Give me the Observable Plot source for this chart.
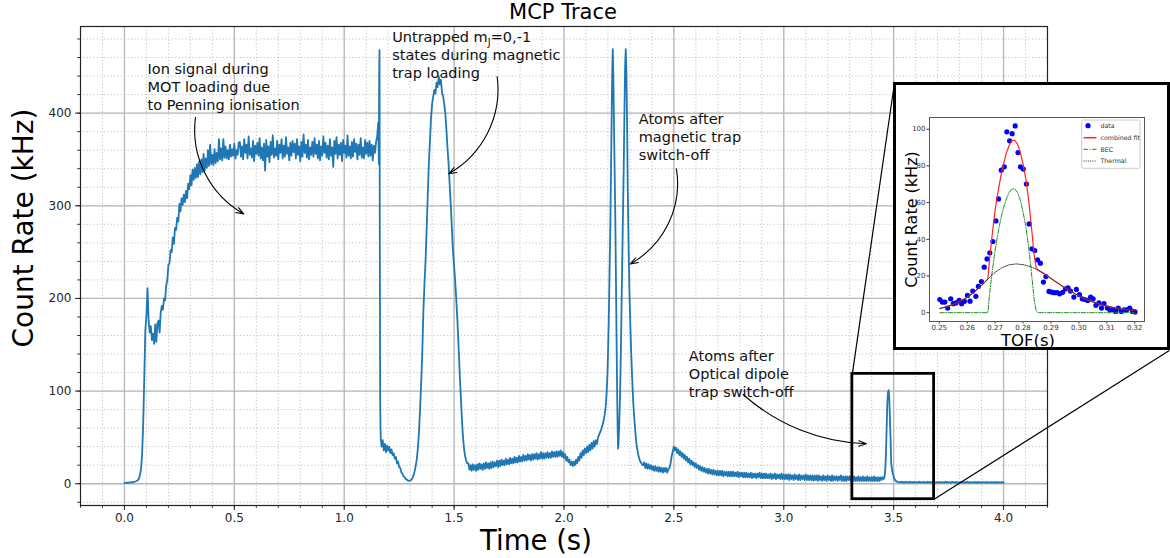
<!DOCTYPE html>
<html><head><meta charset="utf-8">
<script src="https://cdn.jsdelivr.net/npm/d3@7"></script>
<script src="https://cdn.jsdelivr.net/npm/@observablehq/plot@0.6"></script>
<style>
html,body{margin:0;padding:0;background:#fff;}
#wrap{position:relative;width:1170px;height:558px;overflow:hidden;font-family:"DejaVu Sans",sans-serif;}
#title{position:absolute;left:413px;width:300px;top:0;text-align:center;font-size:21px;line-height:24px;color:#000;}
#main{position:absolute;left:0;top:20px;}
#inset{position:absolute;left:893px;top:82px;width:271px;height:262px;border:3px solid #000;background:#fff;}
</style></head><body>
<div id="wrap"><div id="title">MCP Trace</div><div id="main"></div><div id="inset"></div></div>
<script>
// ---------- main MCP trace (time in s, count rate in kHz) ----------
const motStart = 0, motStep = 0.005;
const motCounts = [
 1.0,0.8,1.3,1.0,1.4,1.1,1.6,1.3,1.9,2.0,2.4,2.9,3.6,
 5,9,15,30,62,112,165,182,211,176,163,170,155,162,151,172,153,173,176,163,
 185,192,188,200,198,214,220,236,238,252,
 250,266,259,276,274,287,283,302,294,308,
 301,312,304,316,308,324,318,333,322,339,
 328,341,330,345,331,348,334,350,336,356,
 338,351,341,360,343,366,345,355,344,361,
 346,357,348,372,350,362,349,372,352,364,
 351,360,350,366,353,361,354,367,351,360,
 355,368,
 369,353,364,350,372,357,366,351,375,355,
 362,352,370,348,365,356,368,354,373,351,
 363,349,367,338,371,353,364,347,369,355,
 376,352,362,354,370,350,366,357,372,351,
 365,353,374,356,363,349,368,354,370,358,
 367,351,372,355,364,348,369,353,377,357,
 366,352,371,350,363,355,369,353,373,356,
 366,351,370,349,364,354,375,357,368,352,
 365,350,372,354,363,342,370,356,374,351,
 366,355,368,348,371,357,365,352,376,354,
 364,351,369,353,372,358,367,350,366,355,
 373,352,363,351,371,356,368,353,370,354,
 366,349,365,357,369,375,390];
const spikeTimes = [1.1575,1.159,1.1605,1.162,1.1635,1.165,1.1665];
const spikeCounts = [345,440,468,250,90,62,48];
const magStart = 1.17, magStep = 0.005;
const magCounts = [
 40,47,36,43,34,41,36,40,33,37,31,33,27,29,22,24,18,17,12,11,8,7,5,4.5,3.5,3,3.5,4,6,9,13,19,26,
 38,55,80,108,140,185,215,240,275,310,345,370,395,410,418,425,421,433,428,440,
 431,436,422,418,410,400,382,362,345,322,300,275,250,235,218,198,176,150,122,96,
 72,52,38,30,25,22,
 22,15,20,14,21,15,20,14,21,15,
 22,16,21,15,22,16,23,17,22,16,
 23,17,24,18,23,19,25,18,25,19,
 26,20,25,20,27,21,26,21,28,22,
 27,22,29,23,28,23,30,24,29,24,
 31,25,30,25,32,26,31,25,32,26,
 32,27,33,26,32,27,34,27,33,27,
 33,28,34,28,33,28,35,29,34,29,
 35,29,35,30,36,29,34,28,32,25,
 29,23,26,20,24,19,24,20,26,22,
 29,25,33,28,36,31,38,33,40,34,
 42,36,44,38,46,40,47,43,50,53];
const peakTimes = [2.165,2.17,2.175,2.18,2.185,2.19,2.194,2.198,2.201,2.204,
 2.207,2.211,2.214,2.217,2.2195,2.222,2.2245,2.227,2.23,2.233,
 2.236,2.239,2.242,2.244,2.246,2.248,2.251,2.254,2.257,2.26,
 2.263,2.266,2.269,2.272,2.275,2.278,2.281,2.284,2.287,2.29,
 2.294,2.298,2.302,2.306,2.31,2.315,2.32,2.325,2.33,2.335,
 2.34,2.345,2.35,2.355,2.36];
const peakCounts = [56,59,63,68,74,84,98,120,148,180,
 225,280,340,400,445,469,440,395,345,295,
 230,160,95,60,38,42,62,85,120,160,
 210,255,300,345,400,450,469,445,390,320,
 255,205,170,140,115,88,70,55,42,35,
 29,25,23,21,20];
const tailStart = 2.365, tailStep = 0.005;
const tailCounts = [
 23,17,22,16,21,16,20,15,19,14, 19,14,18,13,18,13,17,12,17,13,
 17,12,16,17,22,30,35,40,36,39, 33,37,31,35,29,33,27,31,25,29,
 23,27,21,25,20,23,18,22,17,20, 15,19,14,18,13,17,12,16,11,16,
 11,15,10,15,10,14,9,14,9,14, 9,14,8,13,9,13,8,13,8,13,
 8,13,8,12,8,13,7,12,8,12, 7,12,7,12,7,11,7,12,6,11,
 7,11,6,11,7,12,6,11,6,11, 6,11,6,10,6,11,5,10,6,11,
 5,10,6,10,5,11,5,10,5,10, 5,10,4,10,5,9,4,10,5,9,
 4,10,4,9,5,9,4,10,4,9, 4,9,4,9,3,9,4,9,3,9,
 4,8,3,9,4,8,3,9,4,8, 3,9,3,8,4,8,3,8,4,9,
 3,8,3,8,3,8,4,8,3,8, 3,8,3,7,3,8,3,7,3,8,
 3,7,3,8,3,7,3,7,3,8, 3,7,3,7,3,7,4,7,5];
const odtTimes = [3.459,3.463,3.467,3.471,3.474,3.477,3.48,3.483,3.486,3.489,3.493,3.497,3.502,3.508,3.515,3.522];
const odtCounts = [8,20,50,86,98,101,93,70,48,22,14,10.5,6,3.5,2.2,1.6];
const endStart = 3.53, endStep = 0.005;
const endCounts = [
 1.5,2.2,1.2,1.9,1.0,2.1,1.4,1.8,1.1,2.3, 1.3,1.9,0.9,2.0,1.4,1.7,1.0,2.2,1.2,1.8,
 1.1,2.0,1.3,1.6,0.9,2.1,1.2,1.9,1.0,1.8, 1.4,2.2,1.0,1.7,1.2,2.0,0.9,1.8,1.3,1.6,
 1.0,2.1,1.2,1.9,1.1,1.7,0.8,2.0,1.3,1.8, 1.0,1.9,1.2,1.6,0.9,2.0,1.1,1.8,1.0,1.7,
 1.2,2.1,0.9,1.8,1.1,1.6,1.0,1.9,1.2,1.7, 0.9,2.0,1.1,1.7,1.0,1.8,1.2,1.6,0.9,1.9,
 1.1,1.7,1.0,1.8,1.2,1.6,0.9,1.9,1.0,1.7, 1.1,1.6,1.0,1.8,1.2];

// ticks
const timeTicks = [0, 0.5, 1, 1.5, 2, 2.5, 3, 3.5, 4];
const countTicks = [0, 100, 200, 300, 400];
const timeMinor = d3.range(-2, 43).map(i => i / 10);
const countMinor = d3.range(-1, 25).map(i => i * 20);

// annotations
const noteText = ["Ion signal during\nMOT loading due\nto Penning ionisation",
  "Untrapped mJ=0,-1\nstates during magnetic\ntrap loading",
  "Atoms after\nmagnetic trap\nswitch-off",
  "Atoms after\nOptical dipole\ntrap switch-off"];
const noteTime = [0.105, 1.218, 2.340, 2.568];
const noteCount = [455.5, 490.3, 401.8, 146.0];
const arrowTime1 = [0.3232, 1.6958, 2.5115, 2.815];
const arrowCount1 = [395.6, 439.5, 339.9, 96.3];
const arrowTime2 = [0.5429, 1.4756, 2.3023, 3.376];
const arrowCount2 = [291.3, 334.5, 237.3, 43.1];
const arrowBend = [-34, 34, 35, -20];

// zoom box and connectors (data coords)
const zoomBox = [{t0: 3.312, t1: 3.684, c0: -16.7, c1: 118.6}];
const insetLinks = [{t1: 3.312, c1: 118.6, t2: 3.5034, c2: 431.95},
                    {t1: 3.684, c1: -16.7, t2: 4.7545, c2: 143.8}];

// ---------- inset: TOF data and fits ----------
const tofTime = [0.2502,0.2511,0.2520,0.2530,0.2541,0.2550,0.2560,0.2571,0.2580,0.2590,
 0.2601,0.2610,0.2620,0.2631,0.2640,0.2651,0.2661,0.2671,0.2681,0.2692,
 0.2703,0.2712,0.2722,0.2733,0.2742,0.2752,0.2761,0.2772,0.2782,0.2791,
 0.2801,0.2812,0.2822,0.2832,0.2842,0.2852,0.2862,0.2873,0.2882,0.2893,
 0.2903,0.2912,0.2922,0.2931,0.2942,0.2952,0.2961,0.2970,0.2982,0.2991,
 0.3002,0.3012,0.3021,0.3031,0.3042,0.3051,0.3061,0.3072,0.3081,0.3090,
 0.3102,0.3111,0.3122,0.3132,0.3141,0.3152,0.3162,0.3171,0.3182,0.3192,0.3201];
const tofCounts = [7.2,5.8,5.8,2.5,7.6,4.9,5.3,6.7,4.9,6.2,
 9.4,6.3,11.8,8.9,14.3,17,24.8,29.3,32.6,38.8,
 50,62,77.7,79.5,98.6,93.7,97.6,101.8,87.3,79.5,
 78.3,70.1,48.4,34.8,33.9,28.8,27,16.7,19.7,11.6,
 11.2,10.9,10.9,10.3,11.1,13,13.6,11.8,8.5,12.7,
 9.8,7.6,7.2,6.7,8.5,7.6,4,5.3,2.5,4.9,
 2.5,1.6,1.6,0.7,2.5,0.7,1.6,1.6,2.5,0.7,0.4];
const combTime = [0.2502,0.2525,0.255,0.2575,0.26,0.2625,0.265,0.2674,
 0.268,0.269,0.27,0.271,0.272,0.273,0.274,0.275,0.276,0.277,0.278,0.279,0.28,0.281,0.282,0.283,0.284,
 0.2847,0.2853,0.2875,0.29,0.2925,0.295,0.2975,0.3,0.3025,0.305,0.3075,0.31,0.3125,0.315,0.3175,0.3198];
const combCounts = [2.3,3.2,4.5,6.2,8.4,11.2,14.6,18.4,
 29,43,56,65.5,74,81,87,91,93.8,94,92,87.5,81,73,61.5,47,31,
 24.5,23.4,21.3,18.7,16.1,13.6,11.3,9.2,7.4,5.9,4.6,3.6,2.8,2.1,1.6,1.2];
const becTime = [0.2502,0.2674,0.268,0.269,0.27,0.271,0.272,0.273,0.274,0.275,0.276,0.277,0.278,0.279,0.28,0.281,0.282,0.283,0.284,0.2847,0.2853,0.3198];
const becCounts = [0,0,10,23,34,43,51,57,62,65.5,67.5,67.5,65.5,61.5,55,47,36,22,7,1,0,0];
const thermTime = [0.2502,0.2525,0.255,0.2575,0.26,0.2625,0.265,0.2675,0.27,0.2725,0.275,0.2775,0.28,0.2825,0.285,0.2875,0.29,0.2925,0.295,0.2975,0.3,0.3025,0.305,0.3075,0.31,0.3125,0.315,0.3175,0.3198];
const thermCounts = [2.3,3.2,4.5,6.2,8.4,11.2,14.6,18.5,22,24.6,26.1,26.6,26.2,25.2,23.5,21.3,18.7,16.1,13.6,11.3,9.2,7.4,5.9,4.6,3.6,2.8,2.1,1.6,1.2];
const tofTicks = [0.25,0.26,0.27,0.28,0.29,0.30,0.31,0.32];
const rateTicks = [0,20,40,60,80,100];
const legendLabels = ["data","combined fit","BEC","Thermal"];

// ---------- build tables ----------
const trace = [];
const addRun = (start, step, counts) => counts.forEach((c, i) => trace.push({t: Math.round((start + i * step) * 10000) / 10000, c}));
const addPairs = (times, counts) => times.forEach((t, i) => trace.push({t, c: counts[i]}));
addRun(motStart, motStep, motCounts);
addPairs(spikeTimes, spikeCounts);
addRun(magStart, magStep, magCounts);
addPairs(peakTimes, peakCounts);
addRun(tailStart, tailStep, tailCounts);
addPairs(odtTimes, odtCounts);
addRun(endStart, endStep, endCounts);

const notes = noteText.map((label, i) => ({label, t: noteTime[i], c: noteCount[i]}));
const arrows = arrowTime1.map((t, i) => ({t1: t, c1: arrowCount1[i], t2: arrowTime2[i], c2: arrowCount2[i], bend: arrowBend[i]}));

const main = Plot.plot({
  width: 1170, height: 538,
  marginLeft: 80, marginRight: 123, marginTop: 6, marginBottom: 53,
  style: {fontFamily: "DejaVu Sans", fontSize: "12px", background: "transparent", overflow: "visible"},
  x: {domain: [-0.2, 4.2]},
  y: {domain: [-23.5, 493.5]},
  marks: [
    Plot.gridX(timeMinor, {stroke: "#bdbdbd", strokeOpacity: 1, strokeWidth: 0.9, strokeDasharray: "1.2,2.2"}),
    Plot.gridY(countMinor, {stroke: "#bdbdbd", strokeOpacity: 1, strokeWidth: 0.9, strokeDasharray: "1.2,2.2"}),
    Plot.gridX(timeTicks, {stroke: "#b8b8b8", strokeOpacity: 1, strokeWidth: 1.3}),
    Plot.gridY(countTicks, {stroke: "#b8b8b8", strokeOpacity: 1, strokeWidth: 1.3}),
    Plot.axisX(timeMinor, {tickSize: 2.8, tickFormat: () => "", label: null, color: "#333"}),
    Plot.axisY(countMinor, {tickSize: 2.8, tickFormat: () => "", label: null, color: "#333"}),
    Plot.axisX(timeTicks, {tickSize: 5, tickPadding: 3, tickFormat: d => d.toFixed(1), label: null, fontSize: 12, color: "#262626"}),
    Plot.axisY(countTicks, {tickSize: 5, tickPadding: 4, tickFormat: d => String(d), label: null, fontSize: 12, color: "#262626"}),
    Plot.line(trace, {x: "t", y: "c", stroke: "#1f77b4", strokeWidth: 1.8}),
    Plot.rect(zoomBox, {x1: "t0", x2: "t1", y1: "c0", y2: "c1", fill: "none", stroke: "#000", strokeWidth: 2.8}),
    Plot.link(insetLinks, {x1: "t1", y1: "c1", x2: "t2", y2: "c2", stroke: "#000", strokeWidth: 1.2}),
    Plot.text(notes, {x: "t", y: "c", text: "label", textAnchor: "start", lineAnchor: "top", lineHeight: 1.2414, fontSize: 14.5, fill: "#111"}),
    ...arrows.map(a => Plot.arrow([a], {x1: "t1", y1: "c1", x2: "t2", y2: "c2", bend: a.bend, stroke: "#000", strokeWidth: 1.1, headLength: 11, headAngle: 40})),
    Plot.frame({stroke: "#222", strokeWidth: 1.2}),
    Plot.text(["Time (s)"], {frameAnchor: "bottom", textAnchor: "middle", lineAnchor: "bottom", dy: 44, dx: -28, fontSize: 27.5, fill: "#000"}),
    Plot.text(["Count Rate (kHz)"], {frameAnchor: "left", textAnchor: "middle", rotate: -90, dx: -56, dy: -38, fontSize: 28, fill: "#000"})
  ]
});
// subscript J in m_J
d3.select(main).selectAll("tspan").filter(function () { return this.textContent === "Untrapped mJ=0,-1"; }).each(function () {
  const s = d3.select(this);
  s.text(null);
  s.append("tspan").text("Untrapped m");
  s.append("tspan").attr("dy", 3.5).attr("font-size", 10).text("J");
  s.append("tspan").attr("dy", -3.5).text("=0,-1");
});
document.getElementById("main").appendChild(main);

const tof = tofTime.map((t, i) => ({t, c: tofCounts[i]}));
const comb = combTime.map((t, i) => ({t, c: combCounts[i]}));
const bec = becTime.map((t, i) => ({t, c: becCounts[i]}));
const therm = thermTime.map((t, i) => ({t, c: thermCounts[i]}));

const inset = Plot.plot({
  width: 271, height: 262,
  marginLeft: 33, marginTop: 32, marginRight: 23, marginBottom: 26,
  style: {fontFamily: "DejaVu Sans", background: "transparent", overflow: "visible"},
  x: {domain: [0.2465, 0.3235]},
  y: {domain: [-4.8, 106.4]},
  marks: [
    Plot.axisX(tofTicks, {tickSize: 2.5, tickPadding: 1.5, fontSize: 7, tickFormat: d => d.toFixed(2), label: null, color: "#333"}),
    Plot.axisY(rateTicks, {tickSize: 2.5, tickPadding: 1.5, fontSize: 7, tickFormat: d => String(d), label: null, color: "#333"}),
    Plot.dot(tof, {x: "t", y: "c", r: 2.6, fill: "#0000ff"}),
    Plot.line(comb, {x: "t", y: "c", stroke: "#ff2424", strokeWidth: 1.2}),
    Plot.line(bec, {x: "t", y: "c", stroke: "#1f8f1f", strokeWidth: 1, strokeDasharray: "4.5,1.5,1,1.5"}),
    Plot.line(therm, {x: "t", y: "c", stroke: "#333", strokeWidth: 1, strokeDasharray: "1,1.2"}),
    Plot.frame({stroke: "#555", strokeWidth: 1}),
    Plot.text(["Count Rate (kHz)"], {frameAnchor: "left", textAnchor: "middle", rotate: -90, dx: -17.6, fontSize: 16, fill: "#000"}),
    Plot.text(["TOF(s)"], {frameAnchor: "bottom", textAnchor: "middle", lineAnchor: "bottom", dy: 24, dx: -9, fontSize: 16.5, fill: "#000"})
  ]
});
// legend inside inset
const lg = d3.select(inset).append("g").attr("font-family", "DejaVu Sans").attr("font-size", 6.3).attr("fill", "#333").attr("text-anchor", "start");
lg.append("rect").attr("x", 185.7).attr("y", 35).attr("width", 58.3).attr("height", 48.3).attr("rx", 1.5)
  .attr("fill", "#fff").attr("stroke", "#cccccc").attr("stroke-width", 1);
const rowsY = [40.7, 52.7, 64.3, 76];
lg.append("circle").attr("cx", 192).attr("cy", rowsY[0]).attr("r", 2.6).attr("fill", "#0000ff");
lg.append("line").attr("x1", 187.5).attr("x2", 200.5).attr("y1", rowsY[1]).attr("y2", rowsY[1]).attr("stroke", "#ff2424").attr("stroke-width", 1.5);
lg.append("line").attr("x1", 187.5).attr("x2", 200.5).attr("y1", rowsY[2]).attr("y2", rowsY[2]).attr("stroke", "#1f8f1f").attr("stroke-width", 1).attr("stroke-dasharray", "4.5,1.5,1,1.5");
lg.append("line").attr("x1", 187.5).attr("x2", 200.5).attr("y1", rowsY[3]).attr("y2", rowsY[3]).attr("stroke", "#333").attr("stroke-width", 1).attr("stroke-dasharray", "1,1.2");
legendLabels.forEach((l, i) => lg.append("text").attr("x", 204.5).attr("y", rowsY[i]).attr("dy", "0.35em").attr("text-anchor", "start").text(l));
document.getElementById("inset").appendChild(inset);
</script>
</body></html>
